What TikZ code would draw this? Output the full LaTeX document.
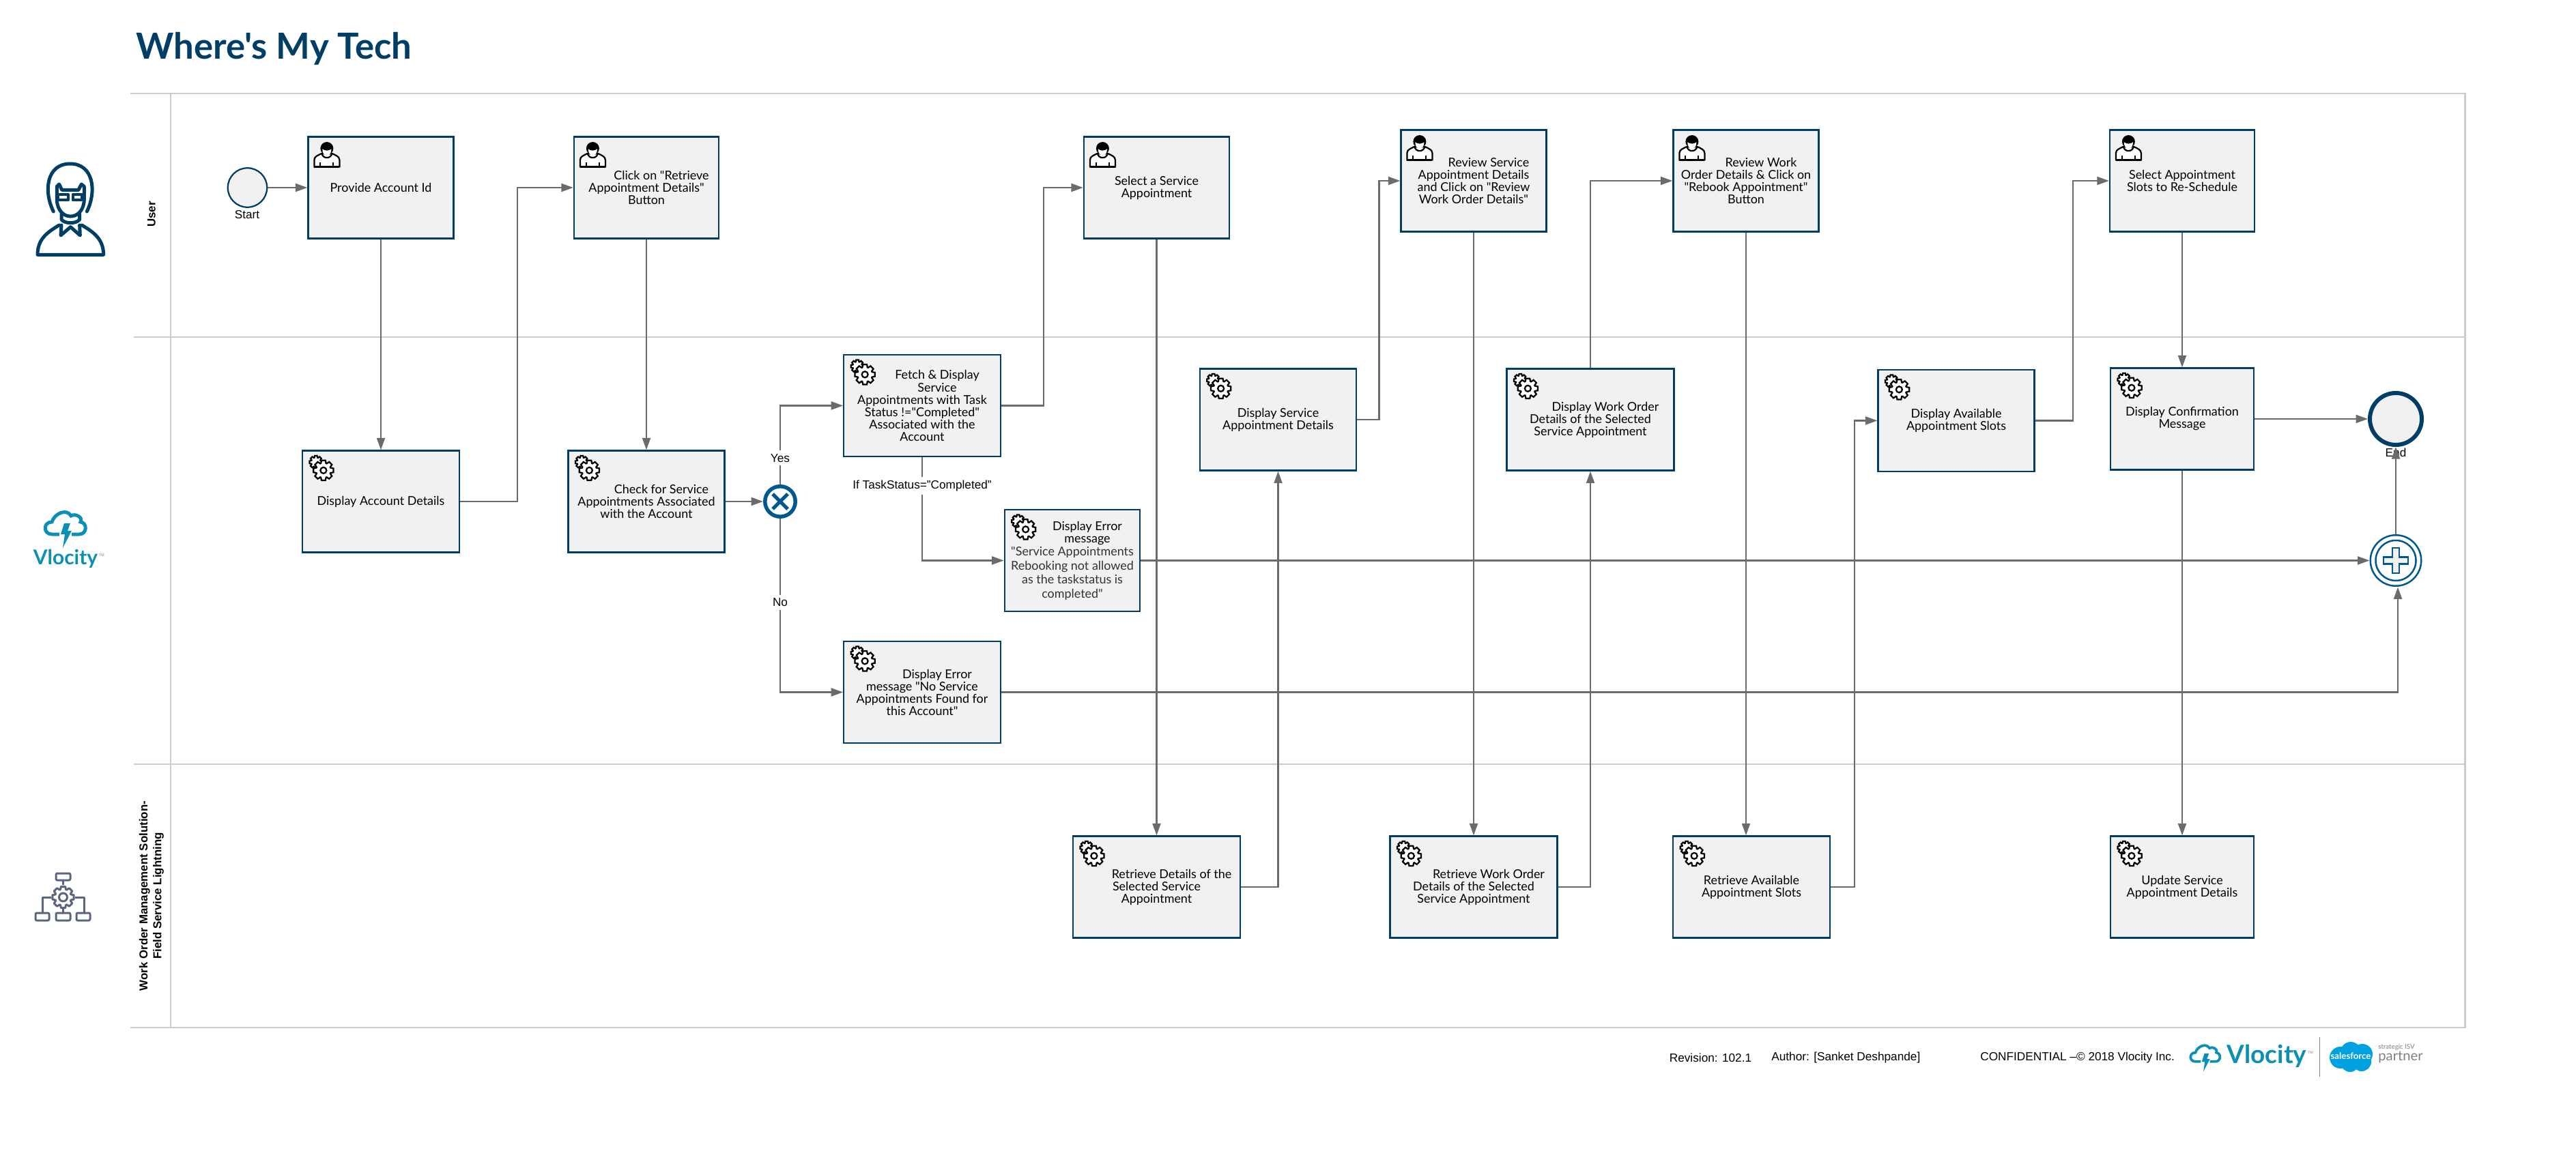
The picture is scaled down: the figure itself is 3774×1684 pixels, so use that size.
\documentclass[tikz,border=0pt]{standalone}
\usepackage{fontspec}
\usepackage{xcolor}
\setmainfont{Liberation Sans}
\newfontfamily\tskfont{Lato}
\usetikzlibrary{arrows.meta}
\definecolor{navy}{HTML}{003E66}
\definecolor{gwblue}{HTML}{00598C}
\definecolor{vblue}{HTML}{0B8FB5}
\definecolor{sfblue}{HTML}{00A1E0}
\definecolor{slate}{HTML}{5A6680}
\definecolor{boxfill}{HTML}{F1F1F1}
\definecolor{connline}{HTML}{6B6B6B}
\definecolor{laneline}{HTML}{CCCCCC}
\newcommand{\firstin}{\hspace*{8.8mm}}
\newcommand{\gearpath}[2]{(-20:#1) \foreach \a in {0,45,...,315}{ -- ({\a-20}:#1) -- ({\a-11}:#2) -- ({\a+11}:#2) -- ({\a+20}:#1)} -- cycle}
\tikzset{
  gearicon/.pic={
    \begin{scope}[shift={(-7,-9)}]
      \draw[line width=.45mm,fill=white] \gearpath{7}{9.5};
    \end{scope}
    \begin{scope}[shift={(4,3)}]
      \draw[line width=.45mm,fill=white] \gearpath{11}{15};
      \draw[line width=.45mm,fill=white] (0,0) circle (4.5);
    \end{scope}
  },
  personicon/.pic={
    \draw[line width=.45mm,fill=white] (-18,18) -- (-18,8) .. controls (-18,3) and (-12,1) .. (-8,-1) -- (9,-1) .. controls (13,1) and (19,3) .. (19,8) -- (19,18) -- cycle;
    \draw[line width=.7mm] (-18,18) -- (19,18);
    \draw[line width=.4mm] (-9,12) -- (-9,18) (10,12) -- (10,18);
    \fill (0.5,-8.8) circle (9.5);
    \fill[white] (-6,-8) .. controls (-3,-5) and (4,-5) .. (7,-8) .. controls (7,-2) and (5,1) .. (0.5,1) .. controls (-4,1) and (-6,-2) .. (-6,-8) -- cycle;
    \draw[line width=.45mm] (-7,-2) .. controls (-6,7) and (7,7) .. (8,-2);
  },
  vcloud/.pic={
    \draw[vblue,line width=#1] (-9,8) -- (-20,8) .. controls (-33,8) and (-33,-10) .. (-20,-10) .. controls (-16,-23) and (2,-30) .. (8,-19) .. controls (14,-23) and (26,-17) .. (22,-10) .. controls (32,-9) and (32,8) .. (20,8) -- (9,8);
    \fill[vblue] (-2,-8) -- (7,-8) -- (3,3) -- (9,3) -- (-4,28) -- (-1,8) -- (-7,8) -- cycle;
  }
}
\begin{document}
\begin{tikzpicture}[x=0.2mm,y=-0.2mm,
    task/.style={draw=navy,fill=boxfill,line width=.45mm,rectangle,inner sep=0pt,minimum height=149*0.2mm,align=center,font=\tskfont\fontsize{10.2}{10.25}\selectfont},
    tw/.style={minimum width=#1*0.2mm},
    lbl/.style={text=black,font=\fontsize{9.8}{10.25}\selectfont,inner sep=1mm},
    conn/.style={connline,line width=.45mm,-{Triangle[length=3.5mm,width=2.4mm]}},
    lane/.style={laneline,line width=.5mm},
    lanetxt/.style={rotate=90,align=center,font=\bfseries\fontsize{9.6}{11.5}\selectfont}]
  \useasboundingbox (0,0) rectangle (3774,1684);

  \node[anchor=west,text=navy,inner sep=0pt,font=\tskfont\bfseries\fontsize{30}{32}\selectfont] (n_title) at (199,71) {Where's My Tech};

  \draw[lane] (191,137) -- (3611.5,137) -- (3611.5,1506) -- (191,1506);
  \draw[lane] (196,494) -- (3611.5,494);
  \draw[lane] (196,1120) -- (3611.5,1120);
  \draw[lane] (250,137) -- (250,1506);

  \node[lanetxt] (n_lane1) at (222,314) {User};
  \node[lanetxt] (n_lane3) at (222,1313) {Work Order Management Solution-\\Field Service Lightning};

  \begin{scope}[shift={(40,230)},scale=1/3,navy,line width=1mm,line cap=round,line join=round]
    \draw (115,240) .. controls (70,150) and (85,30) .. (188,30) .. controls (291,30) and (306,150) .. (262,240);
    \draw (130,190) -- (130,130) -- (140,120) -- (152,145) -- (225,145) -- (238,120) -- (250,130) -- (250,190);
    \draw (130,190) .. controls (135,285) and (245,285) .. (250,190);
    \draw[line width=.8mm] (135,165) rectangle (180,190) (200,165) rectangle (240,190);
    \draw (150,250) -- (150,275) .. controls (165,295) and (215,295) .. (230,275) -- (230,250);
    \draw (150,300) -- (147,345) -- (190,308) -- (232,345) -- (230,300);
    \draw (140,300) .. controls (90,330) and (45,360) .. (45,430) -- (335,430) .. controls (335,360) and (290,330) .. (240,300);
  \end{scope}

  \pic at (96,775) {vcloud=1mm};
  \node[text=vblue,inner sep=0pt,font=\tskfont\bfseries\fontsize{17}{17}\selectfont] (n_vloc) at (96,819) {Vlocity};
  \node[text=gray,inner sep=0pt,font=\fontsize{3}{3}\selectfont] (n_vtm) at (149,814) {TM};

  \begin{scope}[slate,line width=.6mm,line join=round]
    \draw[rounded corners=.4mm] (82,1280) rectangle (103,1290) (52,1338) rectangle (72,1349) (82,1338) rectangle (103,1349) (112,1338) rectangle (132,1349);
    \draw (92.5,1290) -- (92.5,1297) (92.5,1332) -- (92.5,1338);
    \draw (75,1315) -- (62,1315) -- (62,1338) (110,1315) -- (123,1315) -- (123,1338);
    \begin{scope}[shift={(92.5,1315)}]
      \draw \gearpath{12}{16};
      \draw (0,0) circle (6);
    \end{scope}
  \end{scope}

  \node[task,tw=213] (n_acct) at (558,275) {Provide Account Id};
  \node[task,tw=212] (n_clk) at (947,275) {\firstin Click on "Retrieve\\Appointment Details"\\Button};
  \node[task,tw=213] (n_sel) at (1694.5,275) {Select a Service\\Appointment};
  \node[task,tw=213] (n_rev) at (2159,265) {\firstin Review Service\\Appointment Details\\and Click on "Review\\Work Order Details"};
  \node[task,tw=213] (n_rew) at (2558,265) {\firstin Review Work\\Order Details \& Click on\\"Rebook Appointment"\\Button};
  \node[task,tw=212] (n_slot) at (3197,265) {Select Appointment\\Slots to Re-Schedule};

  \node[task,tw=230] (n_dacc) at (558,735) {Display Account Details};
  \node[task,tw=229] (n_chk) at (947,735) {\firstin Check for Service\\Appointments Associated\\with the Account};
  \node[task,tw=229.5] (n_fetch) at (1351,594.5) {\firstin Fetch \& Display\\\firstin Service\\Appointments with Task\\Status !="Completed"\\Associated with the\\Account};
  \node[task,tw=198.5] (n_err1) at (1571,821.5) {\firstin Display Error\\\firstin message\\[.3mm]\textcolor{black!80}{"Service Appointments}\\[.5mm]\textcolor{black!80}{Rebooking not allowed}\\[.5mm]\textcolor{black!80}{as the taskstatus is}\\[.5mm]\textcolor{black!80}{completed"}};
  \node[task,tw=229.5] (n_err2) at (1351,1014.5) {\firstin Display Error\\message "No Service\\Appointments Found for\\this Account"};
  \node[task,tw=229.5] (n_dsvc) at (1872.5,615) {Display Service\\Appointment Details};
  \node[task,tw=245] (n_dwo) at (2330,615) {\firstin Display Work Order\\Details of the Selected\\Service Appointment};
  \node[task,tw=229] (n_avail) at (2866,616.5) {Display Available\\Appointment Slots};
  \node[task,tw=210] (n_conf) at (3197,614) {Display Confirmation\\Message};

  \node[task,tw=245] (n_r1) at (1694.5,1300) {\firstin Retrieve Details of the\\Selected Service\\Appointment};
  \node[task,tw=245] (n_r2) at (2159,1300) {\firstin Retrieve Work Order\\Details of the Selected\\Service Appointment};
  \node[task,tw=229.5] (n_r3) at (2566,1300) {Retrieve Available\\Appointment Slots};
  \node[task,tw=210] (n_upd) at (3197,1300) {Update Service\\Appointment Details};

  \foreach \n in {n_acct,n_clk,n_sel,n_rev,n_rew,n_slot}
    \pic at ([shift={(28,27)}]\n.north west) {personicon};
  \foreach \n in {n_dacc,n_chk,n_fetch,n_err1,n_err2,n_dsvc,n_dwo,n_avail,n_conf,n_r1,n_r2,n_r3,n_upd}
    \pic at ([shift={(28,27)}]\n.north west) {gearicon};

  \node[circle,draw=navy,fill=boxfill,line width=.45mm,inner sep=0pt,minimum size=57.5*0.2mm] (n_start) at (362.5,275) {};
  \node[lbl] (n_startl) at (362,315) {Start};
  \node[circle,draw=gwblue,fill=white,line width=1.1mm,inner sep=0pt,minimum size=44.5*0.2mm] (n_gw) at (1143,735) {};
  \draw[gwblue,line width=1mm] (1132,724) -- (1154,746) (1154,724) -- (1132,746);
  \node[circle,draw=navy,fill=boxfill,line width=1.2mm,inner sep=0pt,minimum size=76*0.2mm] (n_end) at (3510,614) {};
  \node[lbl] (n_endl) at (3510,663) {End};
  \node[circle,draw=gwblue,fill=white,line width=.5mm,inner sep=0pt,minimum size=74.5*0.2mm] (n_plus) at (3510,821.5) {};
  \draw[gwblue,line width=.5mm] (n_plus) circle (29.5);
  \draw[gwblue,line width=.5mm,fill=boxfill] (3505,803) -- (3515,803) -- (3515,816.5) -- (3528,816.5) -- (3528,826.5) -- (3515,826.5) -- (3515,840) -- (3505,840) -- (3505,826.5) -- (3492,826.5) -- (3492,816.5) -- (3505,816.5) -- cycle;
  \coordinate (c_plus) at (3513,860.5);

  \draw[conn] (n_start) -- (n_acct);
  \draw[conn] (n_acct) -- (n_dacc);
  \draw[conn] (n_dacc.east) -- ++(84,0) |- (n_clk.west);
  \draw[conn] (n_clk) -- (n_chk);
  \draw[conn] (n_chk) -- (n_gw);
  \draw[conn] (n_gw.north) |- node[lbl,fill=white,pos=.168] {Yes} (n_fetch.west);
  \draw[conn] (n_gw.south) |- node[lbl,fill=white,pos=.241] {No} (n_err2.west);
  \draw[conn] (n_fetch.east) -- ++(62,0) |- (n_sel.west);
  \draw[conn] (n_fetch.south) |- node[lbl,fill=white,pos=.138] {If TaskStatus="Completed"} (n_err1.west);
  \draw[conn] (n_sel) -- (n_r1);
  \draw[conn] (n_r1.east) -| (n_dsvc.south);
  \draw[conn] (n_dsvc.east) -- ++(32,0) |- (n_rev.west);
  \draw[conn] (n_rev) -- (n_r2);
  \draw[conn] (n_r2.east) -| (n_dwo.south);
  \draw[conn] (n_dwo.north) |- (n_rew.west);
  \draw[conn] (n_rew.south) -- (n_rew.south |- n_r3.north);
  \draw[conn] (n_r3.east) -- ++(35,0) |- (n_avail.west);
  \draw[conn] (n_avail.east) -- ++(55,0) |- (n_slot.west);
  \draw[conn] (n_slot) -- (n_conf);
  \draw[conn] (n_conf) -- (n_upd);
  \draw[conn] (n_conf) -- (n_end);
  \draw[conn] (n_err1) -- (n_plus);
  \draw[conn] (n_err2.east) -| (c_plus);
  \draw[conn] (n_plus) -- (n_end);

  \node[lbl,anchor=west,inner sep=0pt] (n_rev1) at (2445.5,1550) {Revision: 102.1};
  \node[lbl,anchor=west,inner sep=0pt] (n_auth) at (2595,1550) {Author: [Sanket Deshpande]};
  \node[lbl,anchor=west,inner sep=0pt] (n_conft) at (2901,1550) {CONFIDENTIAL –© 2018 Vlocity Inc.};
  \pic[scale=.73] at (3231,1550) {vcloud=.75mm};
  \node[text=vblue,inner sep=0pt,font=\tskfont\bfseries\fontsize{21}{21}\selectfont] (n_vlocf) at (3321,1548) {Vlocity};
  \node[text=gray,inner sep=0pt,font=\fontsize{3}{3}\selectfont] (n_vtmf) at (3385,1543) {TM};
  \draw[gray,line width=.2mm] (3398,1520) -- (3398,1578);
  \fill[sfblue] (3429,1550) circle (16) (3444,1542) circle (15) (3461,1545) circle (15) (3460,1556) circle (14) (3443,1557) circle (14);
  \node[text=white,inner sep=0pt,font=\tskfont\bfseries\fontsize{7.5}{8}\selectfont] (n_sf) at (3444,1548) {salesforce};
  \node[text=black!50,anchor=west,inner sep=0pt,font=\tskfont\fontsize{5.5}{6}\selectfont] (n_isv) at (3484,1535) {strategic ISV};
  \node[text=black!50,anchor=west,inner sep=0pt,font=\tskfont\fontsize{11.5}{12}\selectfont] (n_part) at (3484,1549) {partner};
\end{tikzpicture}
\end{document}
